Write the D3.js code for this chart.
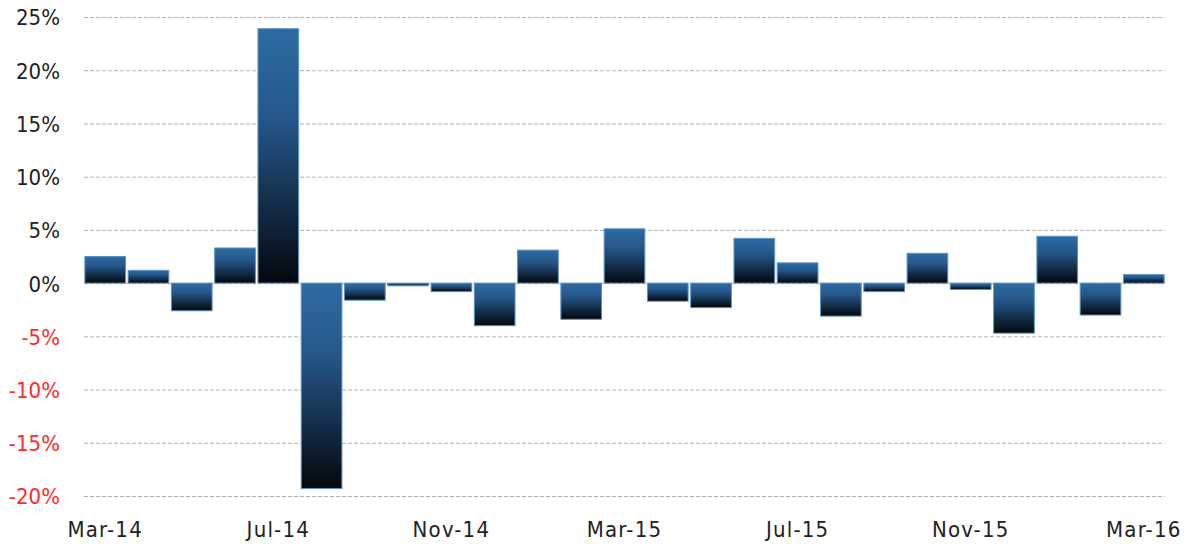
<!DOCTYPE html>
<html>
<head>
<meta charset="utf-8">
<script src="https://cdn.jsdelivr.net/npm/d3@7"></script>
<style>
  body { margin: 0; background: #fff; }
  .lbl { font-family: "DejaVu Sans Condensed", "DejaVu Sans", sans-serif; font-stretch: condensed; }
</style>
</head>
<body>
<div id="chart"></div>
<script>
// Monthly change, Mar-14 .. Mar-16
const months = ["Mar-14","Apr-14","May-14","Jun-14","Jul-14","Aug-14","Sep-14","Oct-14","Nov-14","Dec-14",
  "Jan-15","Feb-15","Mar-15","Apr-15","May-15","Jun-15","Jul-15","Aug-15","Sep-15","Oct-15",
  "Nov-15","Dec-15","Jan-16","Feb-16","Mar-16"];
const values = [2.5, 1.2, -2.6, 3.3, 23.9, -19.3, -1.6, -0.25, -0.8, -4.0,
  3.1, -3.4, 5.1, -1.7, -2.3, 4.2, 1.9, -3.1, -0.8, 2.8,
  -0.6, -4.7, 4.4, -3.0, 0.8];
const xTickLabels = ["Mar-14","Jul-14","Nov-14","Mar-15","Jul-15","Nov-15","Mar-16"];
const yTicks = [-20, -15, -10, -5, 0, 5, 10, 15, 20, 25];

const width = 1189, height = 544;
const plotLeft = 84, plotRight = 1165, plotTop = 17, plotBottom = 496;

const svg = d3.select("#chart").append("svg")
  .attr("width", width)
  .attr("height", height);

// gradient: blue at top, near black at bottom
const grad = svg.append("defs").append("linearGradient")
  .attr("id", "barGrad")
  .attr("x1", 0).attr("y1", 0).attr("x2", 0).attr("y2", 1);
grad.append("stop").attr("offset", "0%").attr("stop-color", "#2e6ba3");
grad.append("stop").attr("offset", "35%").attr("stop-color", "#25578a");
grad.append("stop").attr("offset", "100%").attr("stop-color", "#03080d");

const xScale = d3.scaleBand()
  .domain(months)
  .range([plotLeft, plotRight])
  .paddingInner(0.06)
  .paddingOuter(0.02);

const yScale = d3.scaleLinear()
  .domain([-20, 25])
  .range([plotBottom, plotTop]);

// grid lines
svg.append("g")
  .selectAll("line")
  .data(yTicks)
  .enter().append("line")
    .attr("x1", plotLeft)
    .attr("x2", plotRight)
    .attr("y1", d => yScale(d) + 0.5)
    .attr("y2", d => yScale(d) + 0.5)
    .attr("stroke", "#b0b0b0")
    .attr("stroke-width", 1)
    .attr("stroke-dasharray", "4,2");

// Y axis labels
const yAxis = svg.append("g")
  .attr("transform", "translate(60,0)")
  .call(d3.axisLeft(yScale).tickValues(yTicks).tickSize(0).tickPadding(0).tickFormat(d => d + "%"));
yAxis.select(".domain").remove();
yAxis.selectAll("text")
  .attr("class", "lbl")
  .attr("font-size", 22)
  .attr("font-family", null)
  .attr("dy", "0.36em")
  .attr("fill", d => d < 0 ? "#ff2a2a" : "#222");

// bars
svg.append("g")
  .selectAll("rect")
  .data(values)
  .enter().append("rect")
    .attr("x", (d, i) => xScale(months[i]))
    .attr("y", d => yScale(Math.max(0, d)))
    .attr("width", xScale.bandwidth())
    .attr("height", d => Math.max(1.5, Math.abs(yScale(d) - yScale(0))))
    .attr("fill", "url(#barGrad)")
    .attr("stroke", "#5c92c6")
    .attr("stroke-width", 1);

// X axis labels
const xAxis = svg.append("g")
  .attr("transform", "translate(0,537)")
  .call(d3.axisBottom(xScale).tickValues(xTickLabels).tickSize(0).tickPadding(0));
xAxis.select(".domain").remove();
xAxis.selectAll("text")
  .attr("class", "lbl")
  .attr("font-size", 22)
  .attr("font-family", null)
  .attr("dy", 0)
  .attr("letter-spacing", 1.2)
  .attr("fill", "#222");
</script>
</body>
</html>
